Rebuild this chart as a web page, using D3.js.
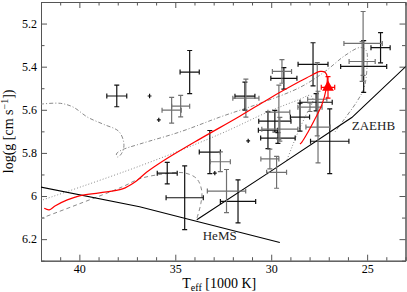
<!DOCTYPE html>
<html lang="en">
<head>
<meta charset="utf-8">
<title>Teff - log g diagram</title>
<script type="text/javascript" src="https://d3js.org/d3.v7.min.js"></script>
<style type="text/css">
  body { margin: 0; background: #fff; }
  text { font-family: "Liberation Serif", "DejaVu Serif", serif; }
</style>
</head>
<body>
<div id="chart"></div>
<script type="text/javascript">

// stars: [Teff (1000 K), log g, err Teff, err log g]
var starsBlack = [
  [38.05, 5.536, 0.52, 0.05],
  [34.25, 5.425, 0.50, 0.10],
  [36.34, 5.536, 0.10, 0.01],
  [35.86, 5.647, 0.10, 0.01],
  [35.42, 5.894, 0.52, 0.05],
  [34.51, 6.008, 0.97, 0.148],
  [31.73, 6.025, 0.92, 0.10],
  [33.20, 5.796, 0.55, 0.10],
  [32.94, 5.894, 0.10, 0.01],
  [26.95, 5.746, 1.00, 0.15],
  [24.30, 5.312, 0.50, 0.07],
  [25.18, 5.399, 1.20, 0.12],
  [27.82, 5.389, 0.78, 0.10],
  [29.34, 5.454, 0.68, 0.05],
  [31.37, 5.537, 0.52, 0.065],
  [29.81, 5.653, 0.84, 0.05],
  [30.17, 5.695, 0.50, 0.085],
  [27.66, 5.565, 0.84, 0.04],
  [29.65, 5.731, 0.90, 0.025],
  [31.20, 5.744, 0.10, 0.01],
  [28.50, 5.634, 0.50, 0.065]
];

var starsGrey = [
  [35.19, 5.602, 0.50, 0.06],
  [34.72, 5.583, 0.47, 0.05],
  [31.32, 5.546, 0.68, 0.088],
  [32.65, 5.841, 0.52, 0.046],
  [32.33, 5.977, 1.00, 0.10],
  [29.72, 5.890, 0.52, 0.074],
  [30.07, 5.828, 0.47, 0.046],
  [29.44, 5.422, 0.50, 0.055],
  [25.21, 5.292, 1.00, 0.148],
  [25.26, 5.376, 0.68, 0.092],
  [29.60, 5.611, 0.57, 0.125],
  [29.55, 5.690, 0.94, 0.055],
  [27.60, 5.551, 0.50, 0.17],
  [27.56, 5.680, 0.63, 0.166],
  [27.98, 5.588, 0.63, 0.02]
];

var redStar = [[27.04, 5.496, 0.35, 0.05]];

// lines: [Teff, log g]
var heMS = [[42.04, 5.958], [36.86, 6.050], [34.62, 6.101], [29.55, 6.216]];
var zaehb = [[33.88, 6.110], [30.07, 5.888], [25.80, 5.636], [22.96, 5.397]];

var trackRed = [
  [41.83, 6.057], [41.57, 6.064], [41.25, 6.045], [40.63, 6.018], [40.00, 5.999],
  [38.95, 5.985], [37.75, 5.967], [37.10, 5.935], [36.50, 5.890], [35.56, 5.833],
  [33.73, 5.736], [31.64, 5.630], [30.07, 5.546], [28.50, 5.468], [27.82, 5.436],
  [27.45, 5.422], [27.19, 5.426], [27.08, 5.449], [27.14, 5.505], [27.35, 5.574],
  [27.72, 5.643], [28.08, 5.703], [28.40, 5.750], [28.50, 5.759]
];

var trackDashDot = [
  [42.04, 5.574], [40.99, 5.570], [40.31, 5.588], [39.58, 5.634], [38.75, 5.667],
  [37.96, 5.699], [37.70, 5.745], [37.70, 5.782], [37.86, 5.810], [38.01, 5.819],
  [38.07, 5.805], [37.80, 5.787], [36.86, 5.759], [34.77, 5.703], [32.68, 5.634],
  [30.59, 5.570], [28.50, 5.496], [27.19, 5.422], [26.15, 5.348], [25.36, 5.311],
  [25.05, 5.325], [25.00, 5.389], [25.15, 5.496], [25.52, 5.560], [26.30, 5.657],
  [26.72, 5.708]
];

var trackDashed = [
  [42.04, 6.105], [40.00, 6.036], [37.75, 5.957], [36.86, 5.920], [35.56, 5.897],
  [34.51, 5.893], [33.88, 5.920], [33.62, 5.976], [33.67, 6.036], [33.88, 6.105]
];

var trackDotted = [
  [42.04, 6.022], [36.86, 5.861], [32.68, 5.713], [30.07, 5.606], [28.50, 5.551],
  [27.98, 5.533], [27.82, 5.551], [28.24, 5.634], [28.60, 5.703], [28.92, 5.773],
  [29.18, 5.833]
];

var xMajor = [40, 35, 30, 25];
var yMajor = [5.2, 5.4, 5.6, 5.8, 6.0, 6.2];

var w = 407;
var h = 292;
var padL = 41, padR = 405.5, padT = 2, padB = 260.7;

var svg = d3.select("#chart")
  .append("svg")
  .attr("width", w)
  .attr("height", h);

var xScale = d3.scaleLinear().domain([42, 23]).range([padL, padR]);
var yScale = d3.scaleLinear().domain([5.1, 6.3]).range([padT, padB]);

var xMinor = d3.range(23, 43, 1).filter(function(d){ return xMajor.indexOf(d) < 0; });
var yMinor = d3.range(51, 64, 1).map(function(d){ return d / 10; })
  .filter(function(d){ return yMajor.every(function(m){ return Math.abs(m - d) > 1e-6; }); });

svg.append("defs").append("clipPath").attr("id", "plot")
  .append("rect")
  .attr("x", padL).attr("y", padT)
  .attr("width", padR - padL).attr("height", padB - padT);

var frameColor = "#555";

function addAxis(axisFn, scale, values, size, transform, labels) {
  var a = axisFn(scale).tickValues(values).tickSizeInner(-size).tickSizeOuter(0).tickPadding(4);
  if (labels) a.tickFormat(labels); else a.tickFormat("");
  var g = svg.append("g").attr("transform", transform).call(a);
  g.selectAll("line").attr("stroke", frameColor);
  g.select(".domain").attr("stroke", frameColor);
  g.selectAll("text").attr("font-family", "Liberation Serif").attr("font-size", 12).attr("fill", "#000");
  return g;
}

var yFmt = function(d){ return Math.abs(d - 6) < 1e-6 ? "6" : d3.format(".1f")(d); };

addAxis(d3.axisBottom, xScale, xMinor, 3.5, "translate(0," + padB + ")");
addAxis(d3.axisBottom, xScale, xMajor, 6, "translate(0," + padB + ")", d3.format("d"));
addAxis(d3.axisTop, xScale, xMinor, 3.5, "translate(0," + padT + ")");
addAxis(d3.axisTop, xScale, xMajor, 6, "translate(0," + padT + ")");
addAxis(d3.axisLeft, yScale, yMinor, 3.5, "translate(" + padL + ",0)");
addAxis(d3.axisLeft, yScale, yMajor, 6, "translate(" + padL + ",0)", yFmt);
addAxis(d3.axisRight, yScale, yMinor, 3.5, "translate(" + padR + ",0)");
addAxis(d3.axisRight, yScale, yMajor, 6, "translate(" + padR + ",0)");

var line = d3.line()
  .x(function(d){ return xScale(d[0]); })
  .y(function(d){ return yScale(d[1]); });
var smooth = d3.line()
  .curve(d3.curveCatmullRom.alpha(0.5))
  .x(function(d){ return xScale(d[0]); })
  .y(function(d){ return yScale(d[1]); });

var plot = svg.append("g").attr("clip-path", "url(#plot)");

plot.append("path").attr("d", smooth(trackDashDot))
  .attr("fill", "none").attr("stroke", "#8a8a8a").attr("stroke-width", 1)
  .attr("stroke-dasharray", "4,2,1,2");
plot.append("path").attr("d", smooth(trackDashed))
  .attr("fill", "none").attr("stroke", "#8a8a8a").attr("stroke-width", 1)
  .attr("stroke-dasharray", "4,3");
plot.append("path").attr("d", smooth(trackDotted))
  .attr("fill", "none").attr("stroke", "#8a8a8a").attr("stroke-width", 1)
  .attr("stroke-dasharray", "1,2");

plot.append("path").attr("d", line(heMS))
  .attr("fill", "none").attr("stroke", "#000").attr("stroke-width", 1.1);
plot.append("path").attr("d", line(zaehb))
  .attr("fill", "none").attr("stroke", "#000").attr("stroke-width", 1.1);

function errorPath(d) {
  var cx = xScale(d[0]), cy = yScale(d[1]);
  var x1 = xScale(d[0] + d[2]), x2 = xScale(d[0] - d[2]);
  var y1 = yScale(d[1] - d[3]), y2 = yScale(d[1] + d[3]);
  var c = 2.5;
  var p = d3.path();
  p.moveTo(x1, cy); p.lineTo(x2, cy);
  p.moveTo(cx, y1); p.lineTo(cx, y2);
  if (cx - x1 > 3) {
    p.moveTo(x1, cy - c); p.lineTo(x1, cy + c);
    p.moveTo(x2, cy - c); p.lineTo(x2, cy + c);
  }
  if (cy - y1 > 3) {
    p.moveTo(cx - c, y1); p.lineTo(cx + c, y1);
    p.moveTo(cx - c, y2); p.lineTo(cx + c, y2);
  }
  return p.toString();
}

function drawStars(data, color) {
  plot.append("g").selectAll("path")
    .data(data)
    .enter()
    .append("path")
    .attr("d", errorPath)
    .attr("fill", "none")
    .attr("stroke", color)
    .attr("stroke-width", 1.2);
}

drawStars(starsBlack, "#111");
drawStars(starsGrey, "#707070");

plot.append("path").attr("d", smooth(trackRed))
  .attr("fill", "none").attr("stroke", "#ff0000").attr("stroke-width", 1.2);

drawStars(redStar, "#ff0000");
plot.selectAll(".tri")
  .data(redStar)
  .enter()
  .append("path")
  .attr("class", "tri")
  .attr("d", d3.symbol().type(d3.symbolTriangle).size(60))
  .attr("transform", function(d){ return "translate(" + xScale(d[0]) + "," + yScale(d[1]) + ")"; })
  .attr("fill", "#ff0000");

// annotations
svg.append("text")
  .attr("x", xScale(25.8)).attr("y", yScale(5.694))
  .attr("font-size", 13).attr("fill", "#222")
  .text("ZAEHB");
svg.append("text")
  .attr("x", xScale(33.57)).attr("y", yScale(6.202))
  .attr("font-size", 13).attr("fill", "#222")
  .text("HeMS");

// axis titles
var xt = svg.append("text")
  .attr("x", (padL + padR) / 2 - 4).attr("y", 288)
  .attr("text-anchor", "middle")
  .attr("font-size", 14);
xt.append("tspan").text("T");
xt.append("tspan").attr("font-size", 10).attr("dy", 2.5).text("eff");
xt.append("tspan").attr("dy", -2.5).text(" [1000 K]");

var yt = svg.append("text")
  .attr("transform", "translate(13," + ((padT + padB) / 2) + ") rotate(-90)")
  .attr("text-anchor", "middle")
  .attr("font-size", 14);
yt.append("tspan").text("log(g [cm s");
yt.append("tspan").attr("font-size", 10).attr("dy", -5).text("\u22121");
yt.append("tspan").attr("dy", 5).text("])");

</script>
</body>
</html>
